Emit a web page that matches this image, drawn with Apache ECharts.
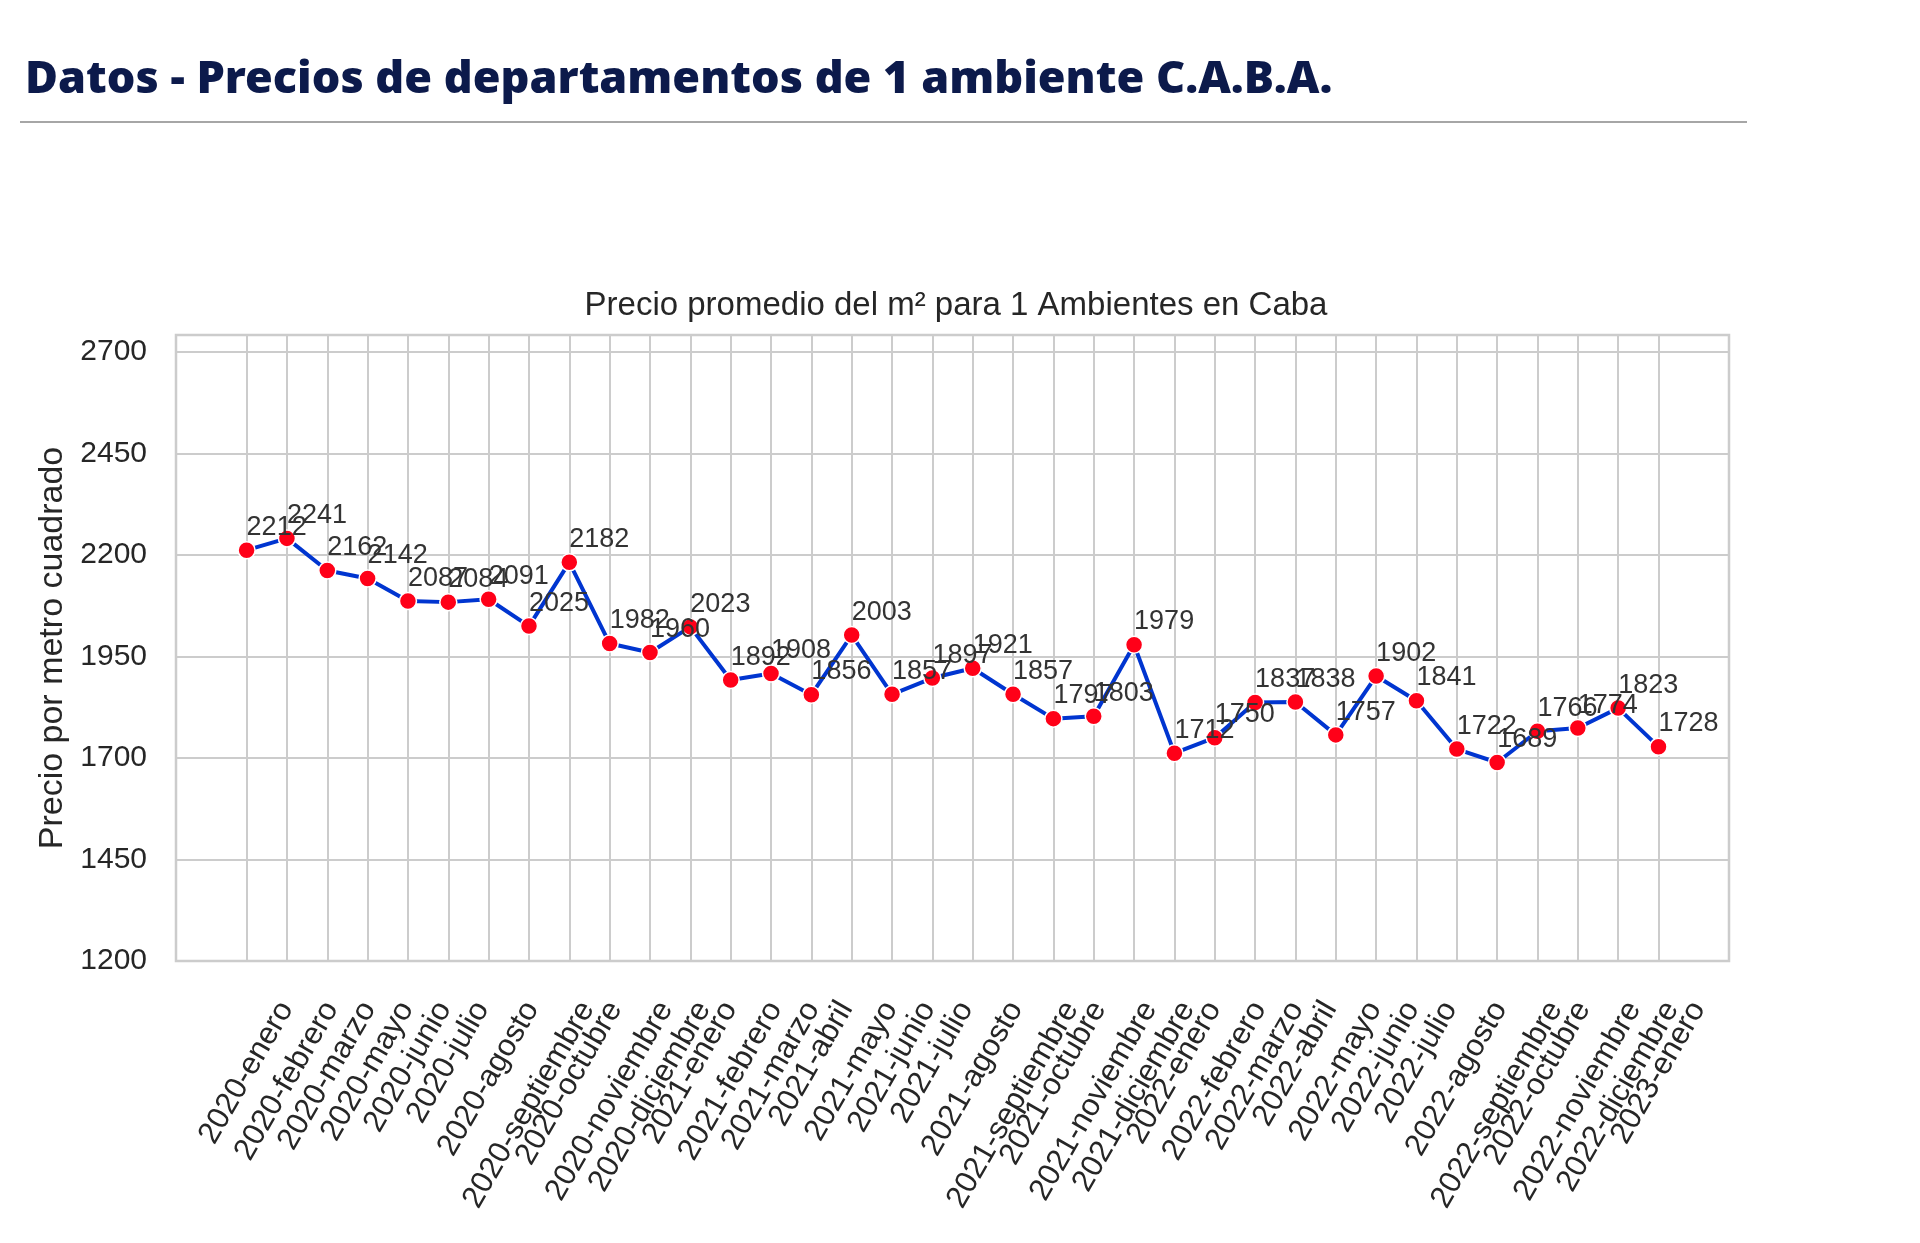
<!DOCTYPE html>
<html>
<head>
<meta charset="utf-8">
<script src="https://cdn.jsdelivr.net/npm/echarts@6/dist/echarts.min.js"></script>
<style>
html,body{margin:0;padding:0;background:#fff;}
#chart{width:1920px;height:1243px;}
</style>
</head>
<body>
<div id="chart"></div>
<script>
const categories = [
  '2020-enero','2020-febrero','2020-marzo','2020-mayo','2020-junio','2020-julio','2020-agosto',
  '2020-septiembre','2020-octubre','2020-noviembre','2020-diciembre',
  '2021-enero','2021-febrero','2021-marzo','2021-abril','2021-mayo','2021-junio','2021-julio',
  '2021-agosto','2021-septiembre','2021-octubre','2021-noviembre','2021-diciembre',
  '2022-enero','2022-febrero','2022-marzo','2022-abril','2022-mayo','2022-junio','2022-julio',
  '2022-agosto','2022-septiembre','2022-octubre','2022-noviembre','2022-diciembre','2023-enero'
];
const precios = [
  2212, 2241, 2162, 2142, 2087, 2084, 2091, 2025, 2182, 1982, 1960,
  2023, 1892, 1908, 1856, 2003, 1857, 1897, 1921, 1857, 1797, 1803, 1979,
  1712, 1750, 1837, 1838, 1757, 1902, 1841, 1722, 1689, 1766, 1774, 1823,
  1728
];
const yTicks = [1200, 1450, 1700, 1950, 2200, 2450, 2700];
const headerTitle = 'Datos - Precios de departamentos de 1 ambiente C.A.B.A.';
const chartTitle = 'Precio promedio del m² para 1 Ambientes en Caba';
const yName = 'Precio por metro cuadrado';

const FONT = '"Liberation Sans", Arial, sans-serif';
const xFont = 31;
const yMin = yTicks[0], yMax = 2742, yStep = yTicks[1] - yTicks[0];

// per-label rich style so that each rotated label's bounding box is centred on its tick
const ctx = document.createElement('canvas').getContext('2d');
ctx.font = xFont + 'px "Liberation Sans"';
const rich = {};
categories.forEach((c, i) => {
  const L = ctx.measureText(c).width;
  rich['c' + i] = {
    fontSize: xFont, fontFamily: FONT, color: '#262626',
    padding: [0.433 * L, 0.75 * L, 0, 0]
  };
});

const chart = echarts.init(document.getElementById('chart'), null, {renderer: 'canvas'});
const option = {
  backgroundColor: '#ffffff',
  animation: false,
  title: [
    {
      text: headerTitle, left: 20, top: 53,
      textStyle: {fontFamily: '"Noto Sans", sans-serif', fontWeight: 900, fontSize: 45, color: '#0c1a4b'}
    },
    {
      text: chartTitle, left: 951, top: 284, textAlign: 'center',
      textStyle: {fontFamily: FONT, fontWeight: 'normal', fontSize: 33, color: '#262626'}
    }
  ],
  graphic: [{
    type: 'line', shape: {x1: 20, y1: 122, x2: 1747, y2: 122},
    style: {stroke: '#a6a6a6', lineWidth: 2}
  }],
  grid: [
    {left: 176, right: 191, top: 335, bottom: 282, show: true, borderColor: '#cccccc', borderWidth: 2.5},
    {left: 246.6, right: 261.5, top: 335, bottom: 282}
  ],
  xAxis: [
    {type: 'value', gridIndex: 0, show: false, min: 0, max: 1},
    {
      type: 'category', gridIndex: 1, data: categories, boundaryGap: false,
      axisLine: {show: false}, axisTick: {show: false},
      splitLine: {show: true, lineStyle: {color: '#cccccc', width: 2}},
      axisLabel: {
        interval: 0, rotate: 60, margin: 43, align: 'center', verticalAlign: 'middle',
        fontSize: xFont, fontFamily: FONT, color: '#262626',
        formatter: (v, i) => '{c' + i + '|' + v + '}',
        rich: rich
      }
    }
  ],
  yAxis: [
    {
      type: 'value', gridIndex: 0, min: yMin, max: yMax, interval: yStep,
      axisLine: {show: false}, axisTick: {show: false},
      splitLine: {show: true, lineStyle: {color: '#cccccc', width: 2}},
      axisLabel: {
        margin: 29, fontSize: 30, fontFamily: FONT, color: '#262626',
        formatter: v => (yTicks.indexOf(v) >= 0 ? String(v) : '')
      },
      name: yName, nameLocation: 'middle', nameGap: 106, nameRotate: 90,
      nameTextStyle: {fontSize: 34, fontFamily: FONT, color: '#262626'}
    },
    {type: 'value', gridIndex: 1, min: yMin, max: yMax, show: false}
  ],
  series: [{
    type: 'line', xAxisIndex: 1, yAxisIndex: 1, data: precios,
    symbol: 'circle', symbolSize: 17,
    lineStyle: {color: '#0035d0', width: 4},
    itemStyle: {color: '#ff0018', borderColor: '#ffffff', borderWidth: 1.5},
    label: {
      show: true, position: 'top', distance: 0, align: 'left',
      fontSize: 27, fontFamily: FONT, color: '#333333'
    },
    z: 3
  }]
};
chart.setOption(option);
</script>
</body>
</html>
